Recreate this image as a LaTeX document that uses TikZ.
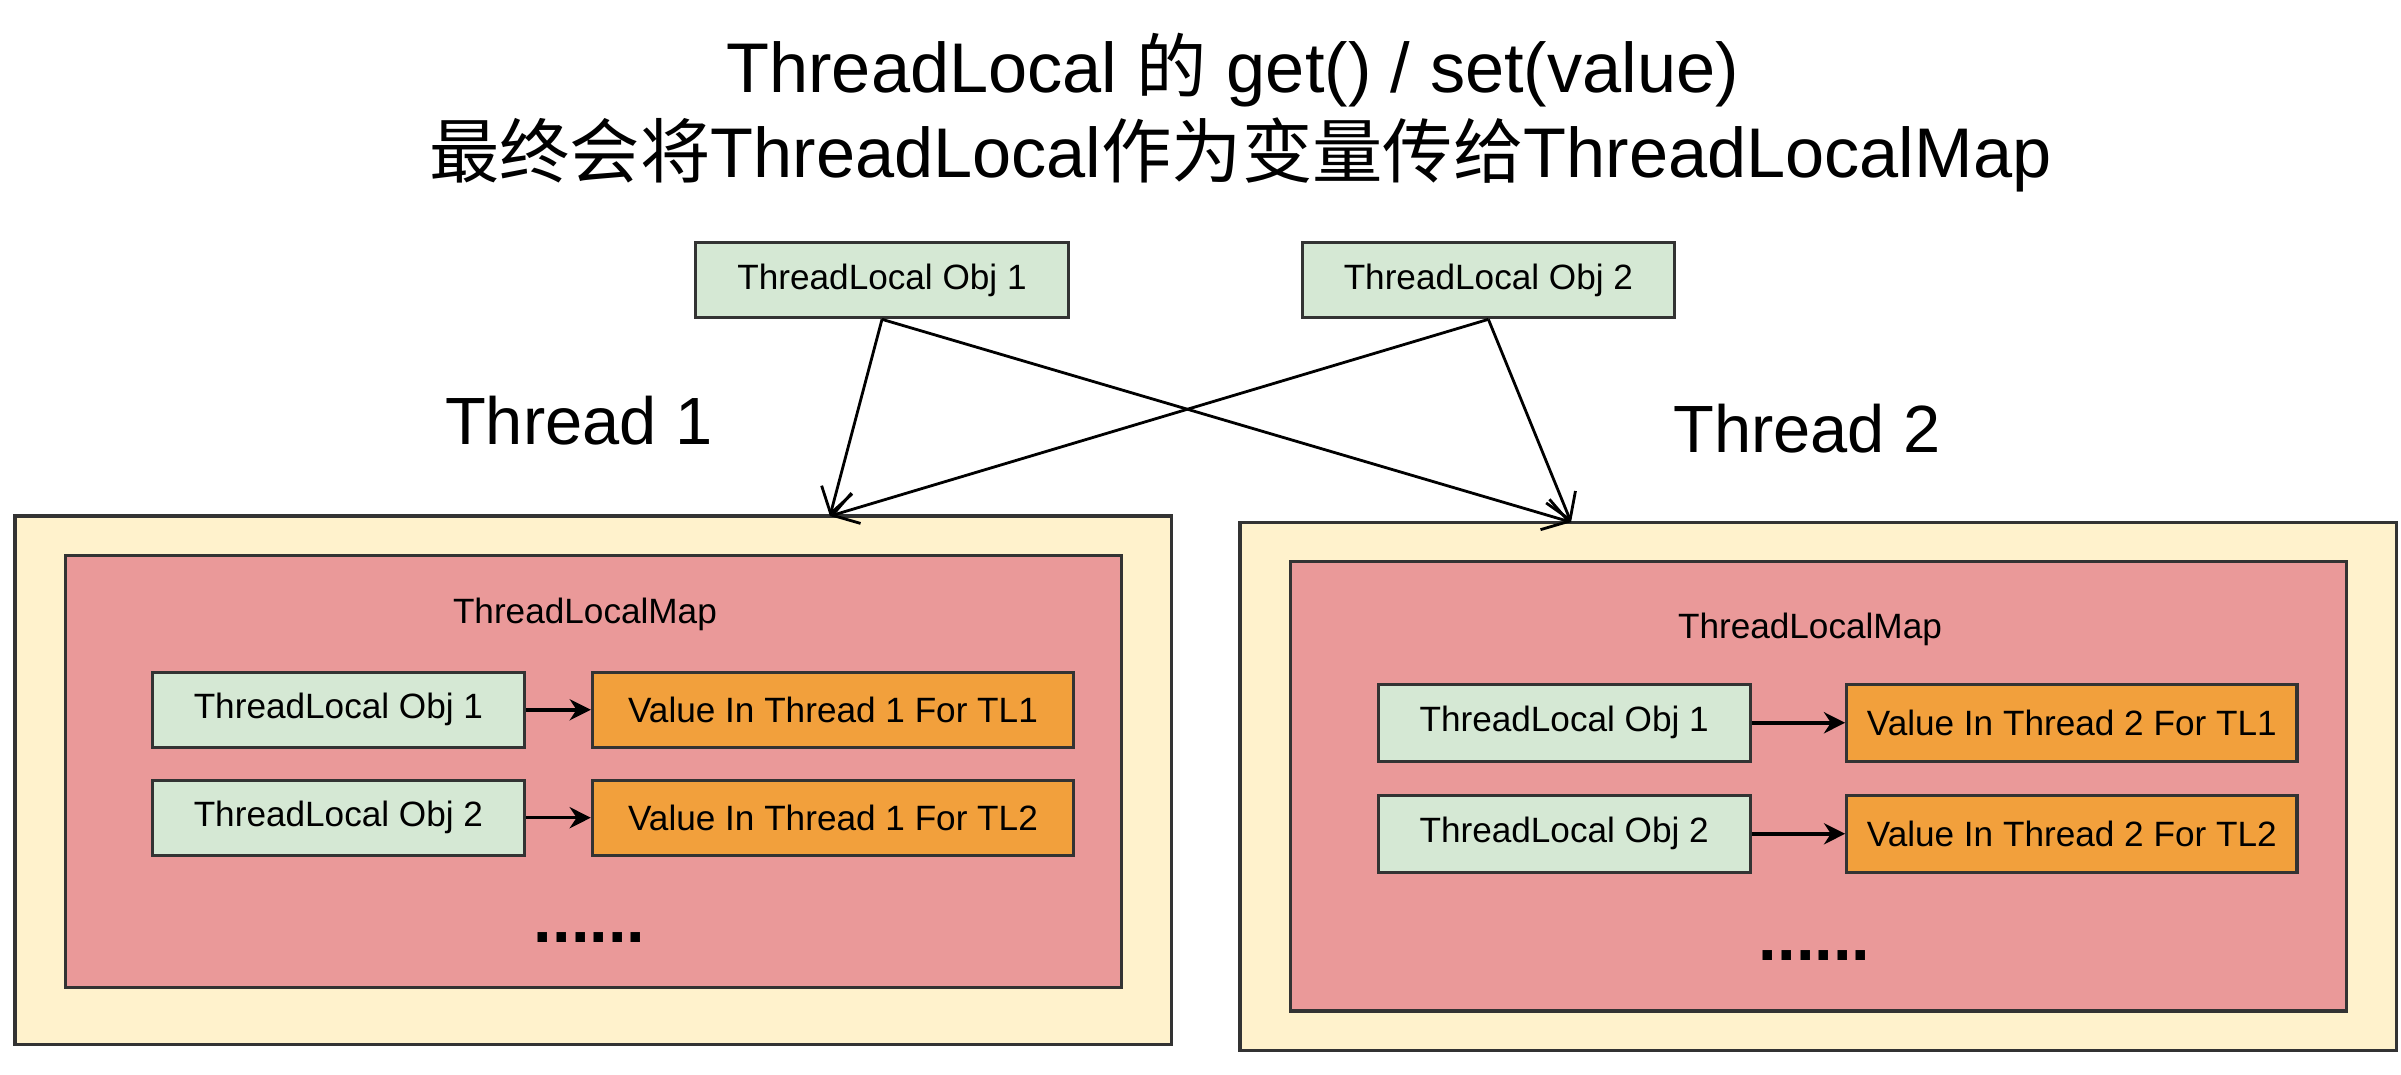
\documentclass[tikz,border=0pt]{standalone}
\usepackage{fontspec}
\setmainfont{Liberation Sans}
\newfontfamily\cjk{Noto Sans CJK SC}
\usetikzlibrary{arrows.meta}
\definecolor{tlgreen}{HTML}{D5E8D4}
\definecolor{tlorange}{HTML}{F2A03C}
\definecolor{tlred}{HTML}{EA9999}
\definecolor{tlyellow}{HTML}{FFF2CC}
\definecolor{tlline}{HTML}{333333}
\begin{document}
\begin{tikzpicture}[x=0.01531cm, y=-0.01531cm,
	tlbox/.style={draw=tlline, line width=0.9pt, inner sep=0pt, font=\fontsize{10}{12}\selectfont},
	keybox/.style={tlbox, fill=tlgreen, minimum width=3.72cm, minimum height=0.75cm},
	valbox/.style={tlbox, fill=tlorange, minimum height=0.75cm},
	threadbox/.style={draw=tlline, line width=0.9pt, fill=tlyellow, minimum width=11.56cm, minimum height=5.28cm},
	mapbox/.style={draw=tlline, line width=0.9pt, fill=tlred, minimum width=10.55cm},
	tllink/.style={-{Straight Barb[length=7pt,width=9pt]}, line width=0.8pt},
	entryarrow/.style={-{Stealth[length=6pt,width=6pt]}, line width=1pt},
	threadname/.style={font=\fontsize{19}{22}\selectfont},
	moredots/.style={font=\fontsize{19}{22}\selectfont\bfseries}]
	\useasboundingbox (0,0) rectangle (1568,702);

	% title
	\node (title1) at (805,46) {\fontsize{20}{24}\selectfont ThreadLocal {\cjk 的} get() / set(value)};
	\node (title2) at (810,101) {\fontsize{20}{24}\selectfont {\cjk 最终会将}ThreadLocal{\cjk 作为变量传给}ThreadLocalMap};

	% shared ThreadLocal objects
	\node [keybox] (tl1) at (576,183) {ThreadLocal Obj 1};
	\node [keybox] (tl2) at (972,183) {ThreadLocal Obj 2};

	\node [threadname] (name1) at (378,275) {Thread 1};
	\node [threadname] (name2) at (1180,280) {Thread 2};

	% Thread 1
	\node [threadbox] (thread1) at (387.5,509.5) {};
	\node [mapbox, minimum height=4.32cm] (map1) at (387.5,504) {};
	\node [font=\fontsize{10}{12}\selectfont] (mapname1) at (382,401) {ThreadLocalMap};
	\node [keybox] (k11) at (221,463.5) {ThreadLocal Obj 1};
	\node [valbox, minimum width=4.81cm] (v11) at (544,463.5) {Value In Thread 1 For TL1};
	\node [keybox] (k12) at (221,534) {ThreadLocal Obj 2};
	\node [valbox, minimum width=4.81cm] (v12) at (544,534) {Value In Thread 1 For TL2};
	\node [moredots] (dots1) at (385,612) {......};

	% Thread 2
	\node [threadbox] (thread2) at (1187.5,513.5) {};
	\node [mapbox, minimum height=4.49cm] (map2) at (1187.5,513.5) {};
	\node [font=\fontsize{10}{12}\selectfont] (mapname2) at (1182,411) {ThreadLocalMap};
	\node [keybox, minimum height=0.77cm] (k21) at (1021.5,472) {ThreadLocal Obj 1};
	\node [valbox, minimum width=4.5cm, minimum height=0.77cm] (v21) at (1353,472) {Value In Thread 2 For TL1};
	\node [keybox, minimum height=0.77cm] (k22) at (1021.5,544.5) {ThreadLocal Obj 2};
	\node [valbox, minimum width=4.5cm, minimum height=0.77cm] (v22) at (1353,544.5) {Value In Thread 2 For TL2};
	\node [moredots] (dots2) at (1185,624) {......};

	\coordinate (in1) at (542,337);
	\coordinate (in2) at (1026,341);

	\draw [tllink] (tl1.south) -- (in1);
	\draw [tllink] (tl1.south) -- (in2);
	\draw [tllink] (tl2.south) -- (in1);
	\draw [tllink] (tl2.south) -- (in2);

	\draw [entryarrow] (k11) -- (v11);
	\draw [entryarrow] (k12) -- (v12);
	\draw [entryarrow] (k21) -- (v21);
	\draw [entryarrow] (k22) -- (v22);
\end{tikzpicture}
\end{document}
